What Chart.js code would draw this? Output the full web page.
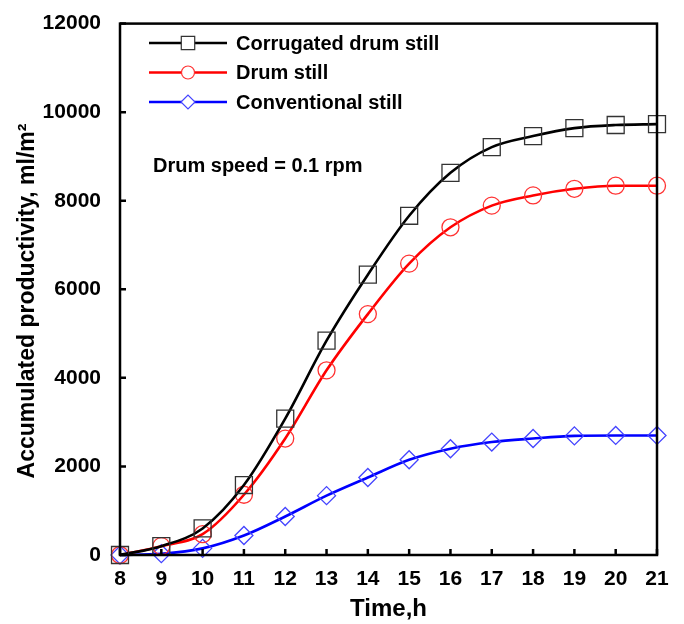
<!DOCTYPE html>
<html>
<head>
<meta charset="utf-8">
<script src="https://cdn.jsdelivr.net/npm/chart.js@4.4.0/dist/chart.umd.min.js"></script>
<style>
  html, body { margin: 0; padding: 0; background: #fff; }
  #wrap { width: 684px; height: 624px; }
</style>
</head>
<body>
<div id="wrap"><canvas id="chart" width="684" height="624"></canvas></div>
<script>
const hours = [8, 9, 10, 11, 12, 13, 14, 15, 16, 17, 18, 19, 20, 21];
const corrugatedStill = [0, 200, 600, 1580, 3080, 4840, 6330, 7660, 8630, 9210, 9460, 9640, 9710, 9730];
const drumStill = [0, 200, 470, 1360, 2630, 4170, 5440, 6580, 7400, 7890, 8120, 8270, 8340, 8340];
const conventionalStill = [0, 30, 150, 440, 870, 1340, 1750, 2150, 2400, 2550, 2630, 2690, 2700, 2700];
const yTicks = [0, 2000, 4000, 6000, 8000, 10000, 12000];

const FONT = "'Liberation Sans', Arial, sans-serif";

const series = [
    { label: 'Corrugated drum still', values: corrugatedStill, color: '#000000', marker: '#333333', style: 'rect', radius: 12, legendRadius: 9.5 },
    { label: 'Drum still', values: drumStill, color: '#ff0000', marker: '#ff3333', style: 'circle', radius: 8.5, legendRadius: 6.5 },
    { label: 'Conventional still', values: conventionalStill, color: '#0000ff', marker: '#4444ff', style: 'rectRot', radius: 9, legendRadius: 7 }
];

const datasets = series.map(s => ({
    label: s.label,
    data: hours.map((h, i) => ({ x: h, y: s.values[i] })),
    borderColor: s.color,
    borderWidth: 2.6,
    cubicInterpolationMode: 'monotone',
    pointStyle: s.style,
    pointRadius: s.radius,
    pointBorderColor: s.marker,
    pointBorderWidth: 1.3,
    pointBackgroundColor: 'rgba(0,0,0,0)',
    clip: false
}));

// frame, inward ticks, legend, note and y title
const decorations = {
    id: 'decorations',
    afterDraw(chart) {
        const ctx = chart.ctx;
        const a = chart.chartArea;
        const xs = chart.scales.x, ys = chart.scales.y;
        ctx.save();
        ctx.strokeStyle = '#000';
        ctx.lineWidth = 2.5;
        ctx.strokeRect(a.left, a.top, a.right - a.left, a.bottom - a.top);
        ctx.beginPath();
        yTicks.forEach(v => {
            const y = ys.getPixelForValue(v);
            ctx.moveTo(a.left, y);
            ctx.lineTo(a.left + 6, y);
        });
        hours.forEach(h => {
            const x = xs.getPixelForValue(h);
            ctx.moveTo(x, a.bottom);
            ctx.lineTo(x, a.bottom - 6);
        });
        ctx.stroke();

        // legend
        ctx.font = 'bold 20px ' + FONT;
        ctx.textBaseline = 'middle';
        series.forEach((s, i) => {
            const y = 43 + i * 29.5;
            ctx.strokeStyle = s.color;
            ctx.lineWidth = 2.6;
            ctx.beginPath();
            ctx.moveTo(149, y);
            ctx.lineTo(227, y);
            ctx.stroke();
            ctx.fillStyle = '#fff';
            ctx.strokeStyle = s.marker;
            ctx.lineWidth = 1.2;
            Chart.helpers.drawPoint(ctx, { pointStyle: s.style, radius: s.legendRadius, borderWidth: 1.2 }, 188, y);
            ctx.fillStyle = '#000';
            ctx.fillText(s.label, 236, y + 1);
        });
        ctx.fillText('Drum speed = 0.1 rpm', 153, 166);

        // y axis title
        ctx.translate(28, 301);
        ctx.rotate(-Math.PI / 2);
        ctx.textAlign = 'center';
        ctx.font = 'bold 23px ' + FONT;
        ctx.fillText('Accumulated productivity, ml/m²', 0, 0);
        ctx.restore();
    }
};

new Chart(document.getElementById('chart'), {
    type: 'line',
    data: { datasets },
    options: {
        responsive: false,
        animation: false,
        layout: { padding: { top: 17, right: 27, left: 0, bottom: 0 } },
        plugins: { legend: { display: false }, tooltip: { enabled: false } },
        scales: {
            x: {
                type: 'linear',
                min: 8,
                max: 21,
                grid: { display: false },
                border: { display: false },
                afterFit: scale => { scale.height = 69; },
                afterBuildTicks: scale => { scale.ticks = hours.map(v => ({ value: v })); },
                ticks: {
                    color: '#000',
                    padding: 4,
                    callback: v => String(v),
                    font: { family: FONT, size: 21, weight: 'bold' }
                },
                title: {
                    display: true,
                    text: 'Time,h',
                    color: '#000',
                    padding: { top: 0, bottom: 0 },
                    font: { family: FONT, size: 24, weight: 'bold' }
                }
            },
            y: {
                min: 0,
                max: 12000,
                grid: { display: false },
                border: { display: false },
                afterFit: scale => { scale.width = 120; },
                afterBuildTicks: scale => { scale.ticks = yTicks.map(v => ({ value: v })); },
                ticks: {
                    color: '#000',
                    padding: 11,
                    callback: v => String(v),
                    font: { family: FONT, size: 21, weight: 'bold' }
                }
            }
        }
    },
    plugins: [decorations]
});
</script>
</body>
</html>
